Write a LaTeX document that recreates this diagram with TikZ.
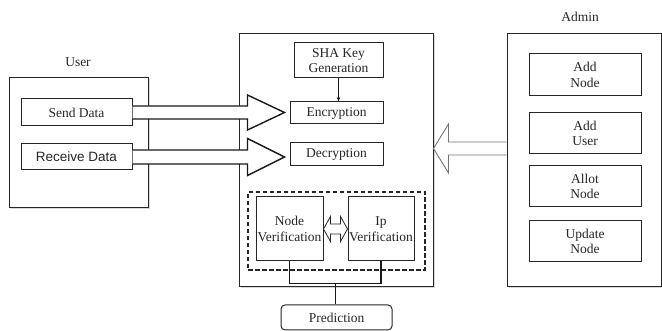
\documentclass[tikz,border=0pt]{standalone}
\usepackage{fontspec}
\setmainfont{Liberation Serif}
\newfontfamily\arialf{Liberation Sans}
\usetikzlibrary{calc,shadows,arrows.meta}
\begin{document}
\begin{tikzpicture}[x=1pt,y=-1pt,
  font=\fontsize{13.5}{15.5}\selectfont, text=black!85,
  box/.style={draw=black!85, line width=1pt, fill=white, inner sep=0pt, align=center},
  shad/.style={drop shadow={opacity=0.25, fill=black!60, shadow xshift=1.5pt, shadow yshift=-1.5pt}},
  bigarr/.style={draw=black!90, line width=1.4pt, line join=miter, fill=white},
  grayarr/.style={draw=black!55, line width=0.9pt, fill=white},
  conn/.style={draw=black!90, line width=1.4pt},
  dashbox/.style={draw=black!85, line width=1.4pt, dash pattern=on 4.5pt off 2.5pt, inner sep=0pt}]
\useasboundingbox (0,0) rectangle (662,331);

% labels
\node (userlbl) at (78,62) {User};
\node (adminlbl) at (580,17) {Admin};

% outer boxes
\node[box, shad, minimum width=139pt, minimum height=130pt] (userbox) at (78.5,143) {};
\node[box, shad, minimum width=194pt, minimum height=253pt] (central) at (336,160.5) {};
\node[box, shad, minimum width=154pt, minimum height=253pt] (adminbox) at (584,160.5) {};

% user inner boxes
\node[box, minimum width=111pt, minimum height=27pt] (send) at (76.5,112.5) {Send Data};
\node[box, minimum width=111pt, minimum height=26pt] (recv) at (76.5,157) {\arialf Receive Data};

% central inner boxes
\node[box, minimum width=89pt, minimum height=35pt] (sha) at (338.5,60.5) {SHA Key\\Generation};
\node[box, minimum width=93pt, minimum height=22pt] (enc) at (336.5,113) {Encryption};
\node[box, minimum width=93pt, minimum height=23pt] (dec) at (336.5,154.5) {Decryption};
\node[dashbox, minimum width=177pt, minimum height=78pt] (dash) at (336.5,231) {};
\node[box, minimum width=67pt, minimum height=64pt] (nodev) at (289.5,229) {Node\\Verification};
\node[box, minimum width=66pt, minimum height=64pt] (ipv) at (381,229) {Ip\\Verification};
\node[box, rounded corners=4pt, minimum width=111pt, minimum height=25pt] (pred) at (336.5,317.5) {Prediction};

% admin inner boxes
\node[box, minimum width=112pt, minimum height=42pt] (addnode) at (585,75) {Add\\Node};
\node[box, minimum width=112pt, minimum height=41pt] (adduser) at (585,133.5) {Add\\User};
\node[box, minimum width=112pt, minimum height=41pt] (allot) at (585,186.5) {Allot\\Node};
\node[box, minimum width=112pt, minimum height=41pt] (update) at (585,241.5) {Update\\Node};

% SHA -> Encryption
\draw[black!90, line width=0.8pt, -{Stealth[length=4.5pt,width=3.5pt]}] (sha.south) -- (sha.south |- enc.north);

% big arrow Send Data -> Encryption
\coordinate (t1) at ($(enc.west |- send.east)+(-5,0)$);
\draw[bigarr] ($(send.east)+(0,-6.5)$) -- ($(t1)+(-37,-6.5)$) -- ($(t1)+(-37,-17.5)$) -- (t1)
  -- ($(t1)+(-37,17.5)$) -- ($(t1)+(-37,6.5)$) -- ($(send.east)+(0,6.5)$);

% big arrow Receive Data -> Decryption
\coordinate (t2) at ($(dec.west |- recv.east)+(-5,0)$);
\draw[bigarr] ($(recv.east)+(0,-7)$) -- ($(t2)+(-37,-7)$) -- ($(t2)+(-37,-18.5)$) -- (t2)
  -- ($(t2)+(-37,18.5)$) -- ($(t2)+(-37,7)$) -- ($(recv.east)+(0,7)$);

% admin arrow -> central
\coordinate (t3) at (central.east |- 0,148.5);
\draw[grayarr] (adminbox.west |- 0,142) -- ($(t3)+(15,-6.5)$) -- ($(t3)+(15,-24.5)$) -- (t3)
  -- ($(t3)+(15,24.5)$) -- ($(t3)+(15,6.5)$) -- (adminbox.west |- 0,155);

% double arrow between verification boxes
\coordinate (dl) at (nodev.east);
\coordinate (dr) at (ipv.west |- nodev.east);
\draw[black!85, line width=0.8pt, fill=white] (dl) -- ($(dl)+(7,-12.5)$) -- ($(dl)+(7,-5)$) -- ($(dr)+(-7,-5)$)
  -- ($(dr)+(-7,-12.5)$) -- (dr) -- ($(dr)+(-7,12.5)$) -- ($(dr)+(-7,5)$) -- ($(dl)+(7,5)$)
  -- ($(dl)+(7,12.5)$) -- cycle;

% verification -> prediction
\draw[conn] (nodev.south) -- ++(0,22) -| (ipv.south);
\coordinate (j) at ($(nodev.south)!0.5!(ipv.south)+(0,22)$);
\draw[conn] (j) -- (j |- pred.north);
\end{tikzpicture}
\end{document}
